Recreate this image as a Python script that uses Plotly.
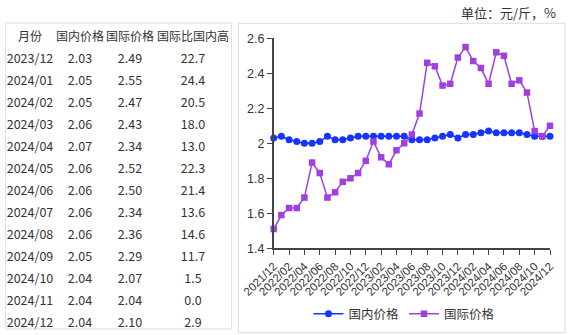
import plotly.graph_objects as go

# Monthly prices (元/斤), 2021/12 - 2024/12
months = [
    "2021/12", "2022/01", "2022/02", "2022/03", "2022/04", "2022/05", "2022/06",
    "2022/07", "2022/08", "2022/09", "2022/10", "2022/11", "2022/12",
    "2023/01", "2023/02", "2023/03", "2023/04", "2023/05", "2023/06",
    "2023/07", "2023/08", "2023/09", "2023/10", "2023/11", "2023/12",
    "2024/01", "2024/02", "2024/03", "2024/04", "2024/05", "2024/06",
    "2024/07", "2024/08", "2024/09", "2024/10", "2024/11", "2024/12",
]
domestic = [
    2.03, 2.04, 2.02, 2.01, 2.00, 2.00, 2.01, 2.04, 2.02, 2.02, 2.03, 2.04, 2.04,
    2.04, 2.04, 2.04, 2.04, 2.04, 2.02, 2.02, 2.02, 2.03, 2.04, 2.05, 2.03,
    2.05, 2.05, 2.06, 2.07, 2.06, 2.06, 2.06, 2.06, 2.05, 2.04, 2.04, 2.04,
]
international = [
    1.51, 1.59, 1.63, 1.63, 1.69, 1.89, 1.83, 1.69, 1.72, 1.78, 1.80, 1.83, 1.90,
    2.01, 1.92, 1.88, 1.96, 2.00, 2.05, 2.17, 2.46, 2.44, 2.33, 2.34, 2.49,
    2.55, 2.47, 2.43, 2.34, 2.52, 2.50, 2.34, 2.36, 2.29, 2.07, 2.04, 2.10,
]
tick_labels = months[::2]

# Table columns (last 13 months)
table_header = ["月份", "国内价格", "国际价格", "国际比国内高"]
table_months = months[-13:]
table_domestic = ["%.2f" % v for v in domestic[-13:]]
table_international = ["%.2f" % v for v in international[-13:]]
table_gap = ["22.7", "24.4", "20.5", "18.0", "13.0", "22.3", "21.4",
             "13.6", "14.6", "11.7", "1.5", "0.0", "2.9"]

W, H = 571, 335
BLUE = "#1634ff"
PURPLE = "#a23fe0"
TXT = "#333333"
FONT = "Noto Sans CJK SC"


def px_x(x):
    return x / W


def px_y(y):
    return 1 - y / H


fig = go.Figure()

fig.add_trace(go.Table(
    domain=dict(x=[px_x(6), px_x(232)], y=[px_y(334), px_y(24)]),
    columnwidth=[48, 52, 48, 78],
    header=dict(
        values=table_header,
        height=22,
        align="center",
        fill_color="white",
        line_color="white",
        font=dict(family=FONT, size=12, color=TXT),
    ),
    cells=dict(
        values=[table_months, table_domestic, table_international, table_gap],
        height=22,
        align="center",
        fill_color="white",
        line_color="white",
        font=dict(family=FONT, size=12.5, color=TXT),
    ),
))

fig.add_trace(go.Scatter(
    x=months, y=domestic, name="国内价格", mode="lines+markers",
    line=dict(color=BLUE, width=1.5),
    marker=dict(symbol="circle", size=7, color=BLUE),
    cliponaxis=False,
))
fig.add_trace(go.Scatter(
    x=months, y=international, name="国际价格", mode="lines+markers",
    line=dict(color=PURPLE, width=1.5),
    marker=dict(symbol="square", size=6.5, color=PURPLE),
    cliponaxis=False,
))

fig.update_layout(
    width=W, height=H,
    margin=dict(l=0, r=0, t=0, b=0, autoexpand=False),
    paper_bgcolor="white",
    plot_bgcolor="white",
    font=dict(family=FONT, color=TXT),
    xaxis=dict(
        domain=[px_x(273.7), px_x(550)],
        type="category",
        range=[0, len(months) - 1],
        tickmode="array",
        tickvals=tick_labels,
        ticktext=tick_labels,
        tickangle=-45,
        ticks="outside", ticklen=5, tickcolor="#444",
        showline=True, linecolor="#444", linewidth=1.5,
        showgrid=False, zeroline=False, automargin=False,
        tickfont=dict(family="Liberation Sans", size=11.5, color=TXT),
    ),
    yaxis=dict(
        domain=[px_y(248.3), px_y(38.3)],
        range=[1.4, 2.6],
        dtick=0.2,
        ticks="outside", ticklen=5, tickcolor="#444",
        showline=True, linecolor="#444", linewidth=1.5,
        showgrid=False, zeroline=False, automargin=False,
        tickfont=dict(family="Liberation Sans", size=12.5, color=TXT),
    ),
    showlegend=True,
    legend=dict(
        orientation="h",
        x=px_x(404), xanchor="center",
        y=px_y(314), yanchor="middle",
        font=dict(family=FONT, size=12.5, color=TXT),
        bgcolor="rgba(0,0,0,0)",
        itemwidth=30,
    ),
    annotations=[dict(
        text="单位：元/斤，%", xref="paper", yref="paper",
        x=px_x(558), y=px_y(13), xanchor="right", yanchor="middle",
        showarrow=False, font=dict(family=FONT, size=13, color=TXT),
    )],
    shapes=[
        dict(type="rect", xref="paper", yref="paper",
             x0=px_x(5.7), x1=px_x(231.7), y0=px_y(329), y1=px_y(23),
             line=dict(color="#dcdcdc", width=1), fillcolor="rgba(0,0,0,0)"),
        dict(type="rect", xref="paper", yref="paper",
             x0=px_x(238.3), x1=px_x(565), y0=px_y(332.7), y1=px_y(23.3),
             line=dict(color="#dcdcdc", width=1), fillcolor="rgba(0,0,0,0)"),
    ],
)

fig.write_html("out.html")
